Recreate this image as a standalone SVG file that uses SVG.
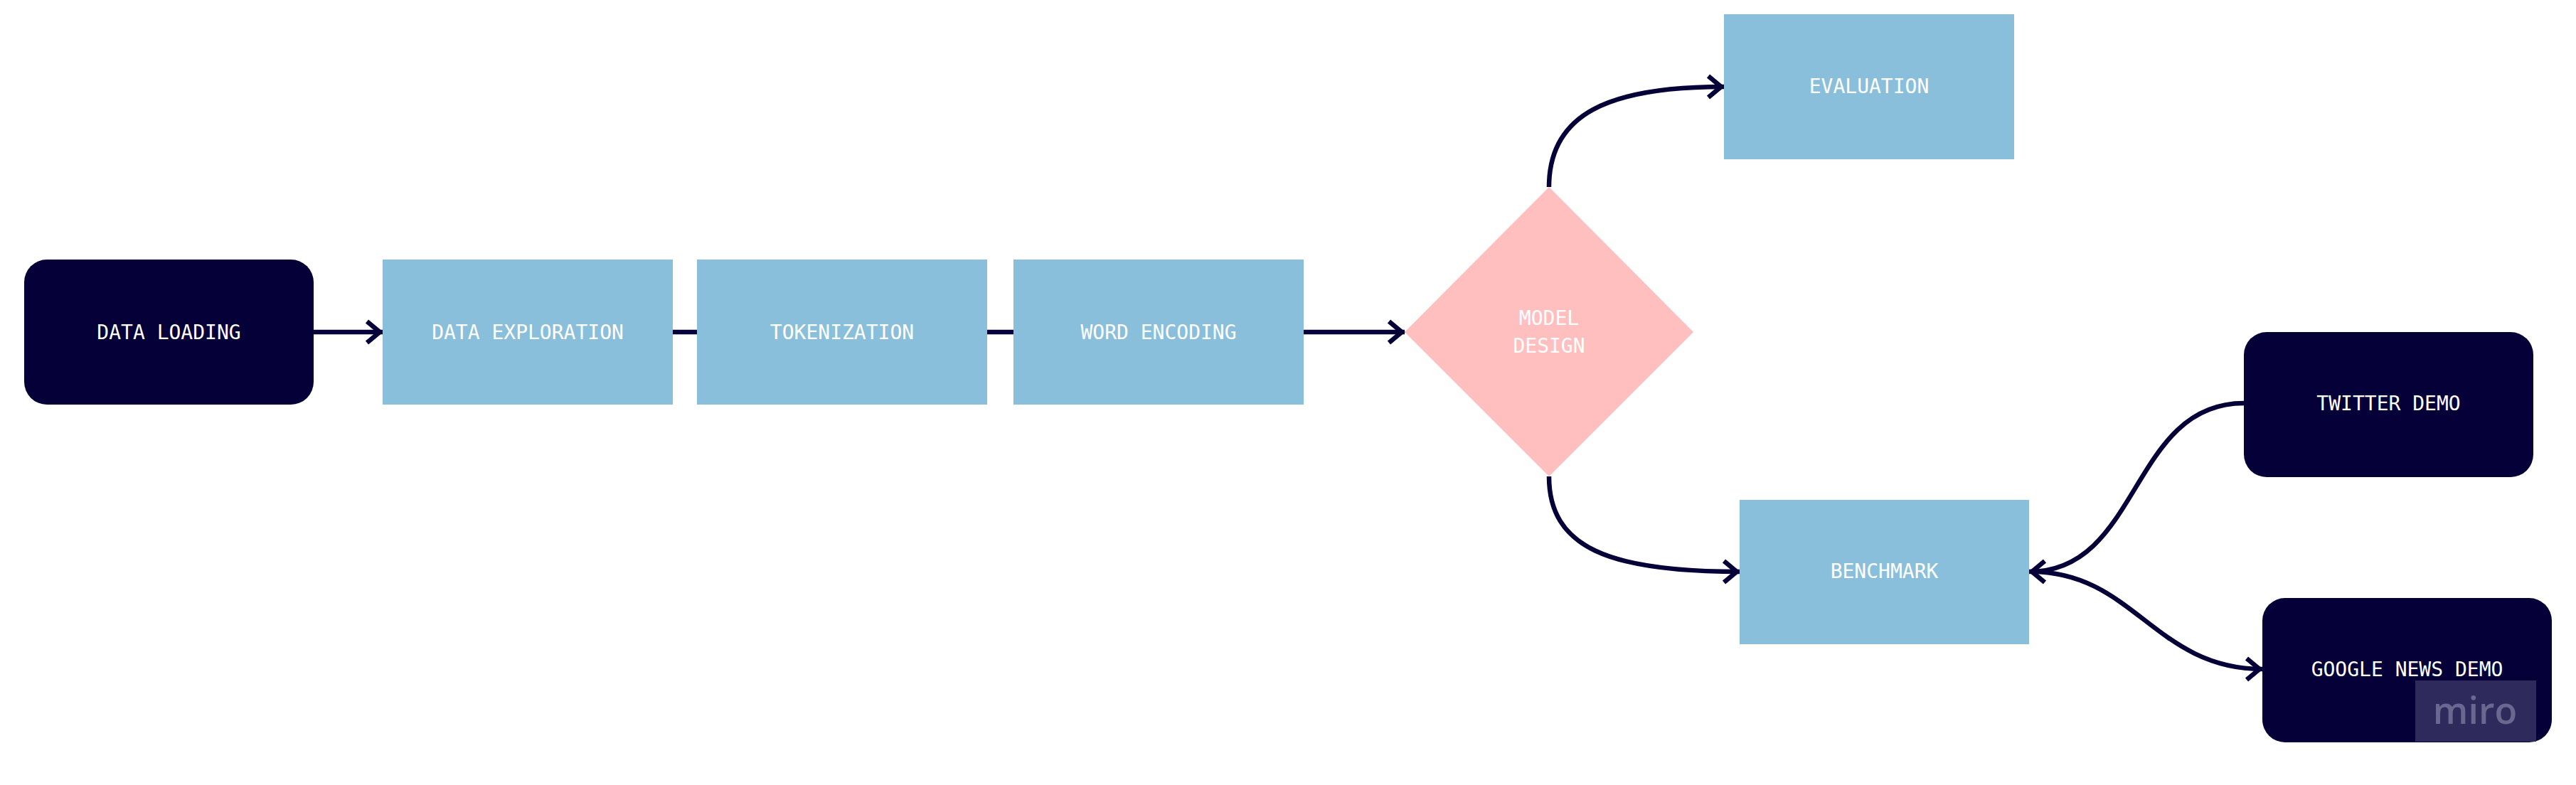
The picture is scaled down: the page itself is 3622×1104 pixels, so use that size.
<svg xmlns="http://www.w3.org/2000/svg" width="3622" height="1104" viewBox="0 0 3622 1104">
<style>
.dark{fill:#050038}
.blue{fill:#8abfdc}
.pink{fill:#ffbfbf}
.lbl{font-family:"DejaVu Sans Mono","Liberation Mono",monospace;font-size:28px;fill:#ffffff;text-anchor:middle;dominant-baseline:central}
.edge{fill:none;stroke:#050038;stroke-width:6.5}
</style>
<defs>
<marker id="arr" markerUnits="userSpaceOnUse" viewBox="-30 -20 34 40" markerWidth="34" markerHeight="40" refX="0" refY="0" orient="auto" overflow="visible">
<path d="M-22,-15 L-4,0 L-22,15" fill="none" stroke="#050038" stroke-width="6.5" stroke-linejoin="miter"/>
</marker>
</defs>
<rect width="3622" height="1104" fill="#ffffff"/>
<g id="connectors">
<path class="edge" d="M441,467 L538,467" marker-end="url(#arr)"/>
<path class="edge" d="M946,467 L980,467"/>
<path class="edge" d="M1388,467 L1425,467"/>
<path class="edge" d="M1833,467 L1975,467" marker-end="url(#arr)"/>
<path class="edge" d="M2178,263 C2178,160 2262,122 2424,122" marker-end="url(#arr)"/>
<path class="edge" d="M2178,670 C2178,770 2262,804 2446,804" marker-end="url(#arr)"/>
<path class="edge" d="M3155,567 C2995,567 3010,804 2853,804" marker-end="url(#arr)"/>
<path class="edge" d="M2856,804 C3000,804 3030,941 3181,941" marker-end="url(#arr)"/>
</g>
<g id="data-loading">
<rect class="dark" x="34" y="365" width="407" height="204" rx="32" ry="32"/>
<text class="lbl" x="237.5" y="467">DATA LOADING</text>
</g>
<g id="data-exploration">
<rect class="blue" x="538" y="365" width="408" height="204"/>
<text class="lbl" x="742" y="467">DATA EXPLORATION</text>
</g>
<g id="tokenization">
<rect class="blue" x="980" y="365" width="408" height="204"/>
<text class="lbl" x="1184" y="467">TOKENIZATION</text>
</g>
<g id="word-encoding">
<rect class="blue" x="1425" y="365" width="408" height="204"/>
<text class="lbl" x="1629" y="467">WORD ENCODING</text>
</g>
<g id="model-design">
<polygon class="pink" points="2178,263 2381,467 2178,670 1975,467"/>
<text class="lbl" x="2178" y="447">MODEL</text>
<text class="lbl" x="2178" y="486">DESIGN</text>
</g>
<g id="evaluation">
<rect class="blue" x="2424" y="20" width="408" height="204"/>
<text class="lbl" x="2628" y="121">EVALUATION</text>
</g>
<g id="benchmark">
<rect class="blue" x="2446" y="703" width="407" height="203"/>
<text class="lbl" x="2649.5" y="803">BENCHMARK</text>
</g>
<g id="twitter-demo">
<rect class="dark" x="3155" y="467" width="407" height="204" rx="32" ry="32"/>
<text class="lbl" x="3358.5" y="567">TWITTER DEMO</text>
</g>
<g id="google-news-demo">
<rect class="dark" x="3181" y="841" width="407" height="203" rx="32" ry="32"/>
<text class="lbl" x="3384.5" y="941">GOOGLE NEWS DEMO</text>
</g>
<g id="watermark">
<rect x="3396" y="957" width="170" height="86" fill="#2e2b5c"/>
<text x="3480" y="1018" font-family="Open Sans, Liberation Sans, sans-serif" font-weight="600" font-size="52" fill="#6b6790" text-anchor="middle">miro</text>
</g>
</svg>
